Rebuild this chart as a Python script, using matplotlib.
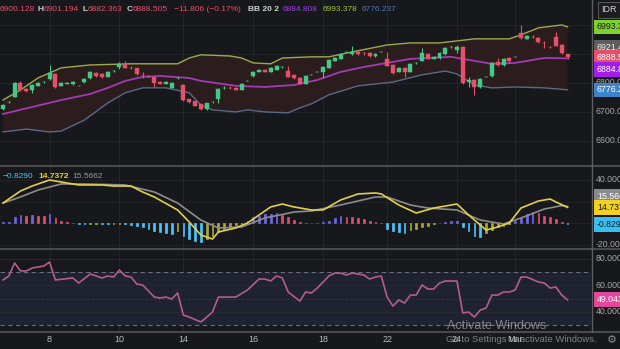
import matplotlib
matplotlib.use("Agg")
import matplotlib.pyplot as plt
from matplotlib.lines import Line2D
from matplotlib.transforms import offset_copy
import numpy as np

plt.rcParams['font.family'] = ['Liberation Sans', 'DejaVu Sans']

W, H = 620, 349
BG = '#17181b'
GREEN = '#44c885'
RED = '#e6506a'

# hourly candles
opens = [6710, 6733, 6752, 6800, 6779, 6776, 6790, 6802, 6814, 6831,
         6790, 6797, 6797, 6791, 6803, 6817, 6834, 6831, 6821, 6840,
         6855, 6866, 6853, 6852, 6829, 6822, 6821, 6803, 6797, 6783,
         6816, 6793, 6745, 6736, 6728, 6710, 6733, 6745, 6782, 6784,
         6783, 6776, 6806, 6824, 6838, 6845, 6838, 6845, 6854, 6841,
         6828, 6817, 6797, 6827, 6837, 6838, 6852, 6876, 6883, 6906,
         6900, 6907, 6904, 6903, 6893, 6906, 6883, 6862, 6838, 6852,
         6838, 6868, 6876, 6900, 6883, 6886, 6900, 6923, 6914, 6924,
         6803, 6810, 6786, 6820, 6824, 6872, 6862, 6886, 6889, 6972,
         6952, 6959, 6955, 6938, 6925, 6959, 6931, 6900.128]
highs = [6728, 6736, 6803, 6807, 6783, 6797, 6803, 6807, 6862, 6834,
         6803, 6804, 6807, 6792, 6817, 6841, 6836, 6833, 6841, 6844,
         6872, 6876, 6857, 6853, 6838, 6824, 6822, 6805, 6805, 6802,
         6820, 6796, 6746, 6738, 6729, 6732, 6737, 6781, 6788, 6788,
         6785, 6799, 6809, 6840, 6847, 6847, 6854, 6861, 6857, 6859,
         6830, 6819, 6826, 6830, 6840, 6857, 6881, 6888, 6902, 6909,
         6928, 6909, 6907, 6905, 6902, 6909, 6907, 6864, 6854, 6854,
         6868, 6871, 6921, 6902, 6892, 6905, 6923, 6926, 6931, 6926,
         6821, 6812, 6816, 6823, 6871, 6886, 6885, 6888, 6892, 7000,
         6965, 6964, 6957, 6945, 6926, 6976, 6933, 6901.194]
lows = [6707, 6731, 6750, 6772, 6769, 6766, 6788, 6800, 6810, 6783,
        6788, 6795, 6793, 6788, 6800, 6814, 6821, 6817, 6819, 6838,
        6848, 6850, 6848, 6828, 6817, 6819, 6786, 6795, 6795, 6781,
        6815, 6738, 6731, 6719, 6707, 6707, 6731, 6731, 6779, 6779,
        6774, 6774, 6805, 6822, 6836, 6836, 6836, 6843, 6853, 6819,
        6815, 6795, 6795, 6826, 6836, 6817, 6850, 6874, 6881, 6905,
        6898, 6898, 6898, 6890, 6891, 6905, 6857, 6831, 6836, 6821,
        6836, 6867, 6874, 6881, 6881, 6884, 6898, 6922, 6903, 6797,
        6786, 6759, 6784, 6819, 6822, 6860, 6860, 6869, 6888, 6953,
        6950, 6955, 6939, 6921, 6922, 6926, 6900, 6882.363]
closes = [6724, 6735, 6800, 6776, 6772, 6793, 6800, 6804, 6834, 6786,
          6800, 6801, 6803, 6789, 6814, 6838, 6824, 6821, 6838, 6842,
          6866, 6852, 6851, 6831, 6827, 6821, 6800, 6797, 6803, 6800,
          6818, 6741, 6734, 6722, 6710, 6731, 6735, 6779, 6784, 6782,
          6776, 6797, 6808, 6838, 6845, 6838, 6852, 6859, 6856, 6821,
          6817, 6797, 6824, 6829, 6839, 6855, 6879, 6886, 6900, 6908,
          6907, 6900, 6902, 6893, 6900, 6908, 6859, 6834, 6852, 6838,
          6866, 6870, 6903, 6883, 6890, 6903, 6921, 6925, 6924, 6800,
          6810, 6786, 6814, 6822, 6869, 6862, 6883, 6876, 6891, 6955,
          6962, 6957, 6941, 6936, 6923, 6928, 6903, 6888.505]

date_labels = ['8', '10', '14', '16', '18', '22', '24', 'Mar']
date_pos = [8, 20, 31, 43, 55, 66, 78, 88]

# Bollinger (20, 2)
bb_upper_x = [0, 3, 6, 10, 15, 22, 30, 32, 34, 39, 41, 43, 46, 48, 53, 56,
              60, 66, 70, 75, 78, 81, 87, 89, 92, 96, 97]
bb_upper = [6741, 6776, 6817, 6852, 6862, 6866, 6866, 6886, 6897, 6893, 6886,
            6869, 6866, 6886, 6890, 6890, 6907, 6931, 6938, 6938, 6945, 6952,
            6952, 6966, 6990, 7000, 6993.378]
bb_mid_x = [0, 5, 10, 15, 18, 21, 24, 27, 32, 34, 40, 45, 50, 54, 58, 62,
            66, 70, 77, 81, 84, 88, 93, 97]
bb_mid = [6693, 6717, 6741, 6762, 6783, 6807, 6821, 6824, 6817, 6807, 6790,
          6786, 6793, 6810, 6838, 6855, 6869, 6883, 6890, 6876, 6866, 6869,
          6886, 6884.808]
bb_lower_x = [0, 4, 8, 10, 14, 18, 21, 24, 28, 32, 34, 36, 40, 42, 45, 49,
              51, 53, 56, 61, 67, 72, 76, 78, 81, 84, 88, 93, 97]
bb_lower = [6631, 6641, 6631, 6634, 6672, 6731, 6766, 6783, 6783, 6766, 6724,
            6707, 6700, 6707, 6700, 6697, 6714, 6728, 6759, 6790, 6803, 6828,
            6841, 6831, 6793, 6783, 6786, 6783, 6776.237]

# MACD (12, 26, 9)
macd_x = [0, 1, 3, 5, 8, 11, 13, 17, 19, 22, 24, 26, 30, 32, 34, 36, 37, 40,
          42, 44, 46, 48, 50, 53, 55, 58, 61, 64, 65, 68, 71, 74, 78, 80, 83,
          85, 87, 89, 92, 94, 95, 97]
macd_line = [18.7, 22.4, 29.8, 34.4, 40.0, 37.2, 35.4, 35.4, 34.4, 34.4, 28.9,
             24.3, 12.3, 1.2, -10.8, -14.5, -8.0, -4.3, 0.3, 7.7, 15.1, 17.8,
             15.1, 12.3, 12.3, 21.5, 27.1, 28.0, 27.1, 16.9, 9.5, 14.1, 17.8,
             7.7, -6.2, -3.4, 0.3, 14.1, 20.6, 22.4, 19.7, 14.7372]
signal_x = [0, 3, 6, 10, 14, 21, 26, 30, 34, 37, 41, 45, 50, 53, 58, 64, 66,
            70, 73, 78, 82, 86, 89, 93, 96, 97]
signal_line = [18.7, 24.3, 30.7, 36.3, 36.3, 35.4, 28.9, 18.7, 3.0, -4.3, -3.4,
               4.9, 10.4, 11.4, 16.9, 24.3, 24.3, 16.9, 14.1, 12.3, 3.0, -0.6,
               4.9, 13.2, 16.3, 15.5662]
hist = [0.9, 1.5, 5.5, 7.3, 7.0, 7.7, 7.1, 6.5, 8.6, 4.9,
        2.5, 0.9, 0.3, -0.5, -0.8, -0.5, -0.3, -0.6, -0.9, -0.7,
        -0.4, -0.8, -1.2, -2.2, -3.7, -5.2, -6.8, -8.3, -9.2, -9.8,
        -6.8, -11.4, -14.5, -16.0, -17.5, -14.5, -11.4, -8.3, -5.2, -3.7,
        -1.2, -0.6, 2.5, 5.5, 7.1, 8.3, 8.8, 9.2, 8.0, 5.5,
        3.1, 0.9, 0.5, 0.3, 0.6, 0.9, 2.5, 4.6, 6.5, 6.2,
        5.5, 4.9, 4.0, 2.5, 1.5, 0.3, -5.2, -6.8, -8.3, -8.5,
        -6.2, -5.2, -3.7, -2.2, -0.6, 0.3, 0.9, 1.8, 2.5, -3.7,
        -6.8, -11.4, -12.9, -9.2, -6.2, -3.7, -2.2, -0.9, 2.5, 5.5,
        8.6, 10.2, 9.2, 7.1, 5.5, 4.0, 0.9, -0.829]

# RSI (14)
rsi_x = [0, 1, 2, 3, 4, 5, 7, 8, 9, 12, 13, 15, 17, 18, 19, 20, 21, 22, 23, 24,
         26, 27, 28, 29, 30, 31, 32, 34, 35, 36, 37, 40, 42, 44, 45, 46, 47, 48,
         49, 51, 52, 53, 54, 56, 57, 58, 59, 60, 61, 62, 63, 64, 65, 66, 67, 68,
         69, 70, 71, 72, 73, 74, 75, 76, 78, 79, 80, 81, 82, 83, 84, 85, 86, 87,
         88, 89, 90, 92, 93, 94, 95, 96, 97]
rsi = [64.0, 67.0, 76.8, 70.8, 70.8, 73.0, 74.5, 77.5, 64.0, 65.5, 61.7, 68.5,
       65.5, 67.0, 66.2, 71.5, 67.0, 66.2, 60.9, 60.2, 51.1, 50.4, 51.1, 49.6,
       54.2, 37.5, 36.0, 32.3, 36.0, 39.8, 51.1, 51.1, 56.4, 64.7, 64.7, 63.2,
       67.0, 65.5, 54.9, 48.1, 54.9, 54.2, 57.9, 67.0, 69.2, 69.2, 67.7, 69.2,
       68.5, 67.7, 64.7, 66.2, 67.0, 51.1, 44.3, 48.9, 46.6, 52.6, 52.6, 60.2,
       57.2, 57.2, 61.7, 63.2, 63.2, 39.1, 39.8, 36.0, 41.3, 42.8, 52.6, 52.6,
       54.9, 54.9, 56.4, 66.2, 66.2, 62.5, 61.7, 57.9, 58.7, 52.6, 49.043]


def fx(x):
    return x / W


def fy(y):
    return 1 - y / H


fig = plt.figure(figsize=(W / 100, H / 100), dpi=100, facecolor=BG)

plot_w = 591 / W
ax1 = fig.add_axes([0, fy(165), plot_w, 165 / H], facecolor=BG)
ax2 = fig.add_axes([0, fy(248), plot_w, 82 / H], facecolor=BG)
ax3 = fig.add_axes([0, fy(331), plot_w, 81 / H], facecolor=BG)

for ax in (ax1, ax2, ax3):
    ax.set_xlim(-0.515, 101.03)
    ax.set_xticks([])
    ax.set_yticks([])
    for s in ax.spines.values():
        s.set_visible(False)
    for p in date_pos:
        ax.axvline(p, color='#242527', lw=0.8, zorder=0)

# --- price pane ---
ax1.set_ylim(6517, 7086)
for lvl in (6600, 6700, 6800, 6900, 7000):
    ax1.axhline(lvl, color='#232427', lw=0.8, zorder=0)

ax1.fill(np.concatenate([bb_upper_x, bb_lower_x[::-1]]),
         np.concatenate([bb_upper, bb_lower[::-1]]),
         color='#2b1d1d', lw=0, zorder=1)
ax1.plot(bb_upper_x, bb_upper, color='#9aab4c', lw=1.0, zorder=2)
ax1.plot(bb_mid_x, bb_mid, color='#a23bb2', lw=1.3, zorder=2)
ax1.plot(bb_lower_x, bb_lower, color='#596a86', lw=1.0, zorder=2)

idx = np.arange(len(closes))
o = np.array(opens)
c = np.array(closes)
colors = [GREEN if cc >= oo else RED for oo, cc in zip(o, c)]
ax1.vlines(idx, lows, highs, colors=colors, lw=0.8, zorder=3)
ax1.bar(idx, np.maximum(np.abs(c - o), 1.5), bottom=np.minimum(o, c),
        width=0.68, color=colors, edgecolor=colors, lw=0.3, zorder=4)

# --- MACD pane ---
ax2.set_ylim(-22.8, 52.9)
for lvl in (-20, 0, 20, 40):
    ax2.axhline(lvl, color='#212225', lw=0.8, zorder=0)
hcols = []
prev = 0
for v in hist:
    if v >= 0:
        hcols.append('#6f66e6' if v >= prev else '#e0506e')
    else:
        hcols.append('#4fc3f7' if v < prev else '#a8a83a')
    prev = v
ax2.bar(idx, hist, width=0.3, color=hcols, edgecolor=hcols, lw=0.5, zorder=2)
ax2.plot(signal_x, signal_line, color='#8c8c8c', lw=1.2, zorder=3)
ax2.plot(macd_x, macd_line, color='#e3cf4a', lw=1.2, zorder=4)

# --- RSI pane ---
ax3.set_ylim(25.5, 86.6)
ax3.axhspan(30, 70, color='#1f2331', lw=0, zorder=0)
for lvl in (40, 60, 80):
    ax3.axhline(lvl, color='#272a33', lw=0.7, zorder=1)
ax3.axhline(50, color='#3a3e4a', lw=0.6, ls=(0, (2, 3)), zorder=1)
for lvl in (70, 30):
    ax3.axhline(lvl, color='#6a6e7c', lw=0.8, ls=(0, (4, 3)), zorder=1)
ax3.plot(rsi_x, rsi, color='#b45c8e', lw=1.2, zorder=3)

for p, lab in zip(date_pos, date_labels):
    ax3.text(p, -0.11, lab, transform=ax3.get_xaxis_transform(), ha='center',
             va='center', fontsize=6.5, color='#b8b8b8', clip_on=False)

# pane separators and price-scale border
for y in (165.5, 249, 331.5):
    fig.add_artist(Line2D([0, 1], [fy(y), fy(y)], color='#4a4a4c', lw=1.5))
fig.add_artist(Line2D([plot_w + 0.5 / W] * 2, [fy(331.5), 1], color='#5e5e60', lw=1.0))

# right scale labels
def scale_label(ax, value, text):
    ax.text(1.008, value, text, transform=ax.get_yaxis_transform(), ha='left',
            va='center', fontsize=6.3, color='#a6a6a6', clip_on=False)


def tag(ax, value, text, bg, fg, shift=0):
    tr = offset_copy(ax.get_yaxis_transform(), fig=fig, y=shift, units='dots')
    ax.text(1.010, value, text, transform=tr, ha='left', va='center',
            fontsize=6.3, color=fg, clip_on=False, zorder=10,
            bbox=dict(boxstyle='square,pad=0.32', fc=bg, ec='none'))


for v in (6600, 6700, 6800):
    scale_label(ax1, v, f'{v}.000')
tag(ax1, 6993.378, '6993.378', '#7cd12c', '#1a1a1a')
tag(ax1, 6921.434, '6921.434', '#5e5e5e', '#f0f0f0')
tag(ax1, 6888.505, '6888.505', RED, '#ffffff')
tag(ax1, 6884.808, '6884.808', '#a11ee8', '#ffffff', shift=-11)
tag(ax1, 6776.237, '6776.237', '#3d84c8', '#ffffff')

scale_label(ax2, 40, '40.000')
scale_label(ax2, -20, '-20.000')
tag(ax2, 15.5662, '15.566', '#8a8a8a', '#ffffff', shift=10)
tag(ax2, 14.7372, '14.737', '#f2d21f', '#1a1a1a')
tag(ax2, -0.829, '-0.829', '#36bff2', '#1a1a1a')

for v in (80, 60, 40):
    scale_label(ax3, v, f'{v}.000')
tag(ax3, 49.043, '49.043', '#e2479c', '#ffffff')

fig.text(fx(601), fy(10), 'IDR', fontsize=6.5, color='#d0d0d0', va='center',
         bbox=dict(boxstyle='square,pad=0.35', fc='#1c1c1e', ec='#555555', lw=0.8))

# legend lines
def header(parts, y):
    for x, text, col, bold in parts:
        fig.text(fx(x), fy(y), text, fontsize=6, color=col, va='center',
                 fontweight='bold' if bold else 'normal')


header([(-6, 'O', '#d0d0d0', True), (0, '6900.128', RED, False),
        (38, 'H', '#d0d0d0', True), (43.5, '6901.194', RED, False),
        (82.5, 'L', '#d0d0d0', True), (87.5, '6882.363', RED, False),
        (127, 'C', '#d0d0d0', True), (133, '6888.505', RED, False),
        (174, '\u221211.806 (\u22120.17%)', RED, False),
        (248, 'BB 20 2', '#d0d0d0', True),
        (283, '6884.808', '#a23be0', False),
        (323, '6993.378', '#9fc43a', False),
        (362, '6776.237', '#4f78b0', False)], 9.5)
header([(3, '\u22120.8290', '#4fc3f7', False),
        (38, '14.7372', '#f2d21f', True),
        (72, '15.5662', '#9a9a9a', False)], 176)

# Windows activation notice
fig.text(fx(447), fy(326), 'Activate Windows', fontsize=9, color='#d8d8d8',
         alpha=0.55, va='center')
fig.text(fx(446), fy(340), 'Go to Settings to activate Windows.', fontsize=6.8,
         color='#d8d8d8', alpha=0.55, va='center')
fig.text(fx(612), fy(340), '\u2699', fontsize=8, color='#8a8a8a', va='center',
         ha='center', family=['DejaVu Sans'])

fig.savefig('out.png', dpi=100, facecolor=BG)
